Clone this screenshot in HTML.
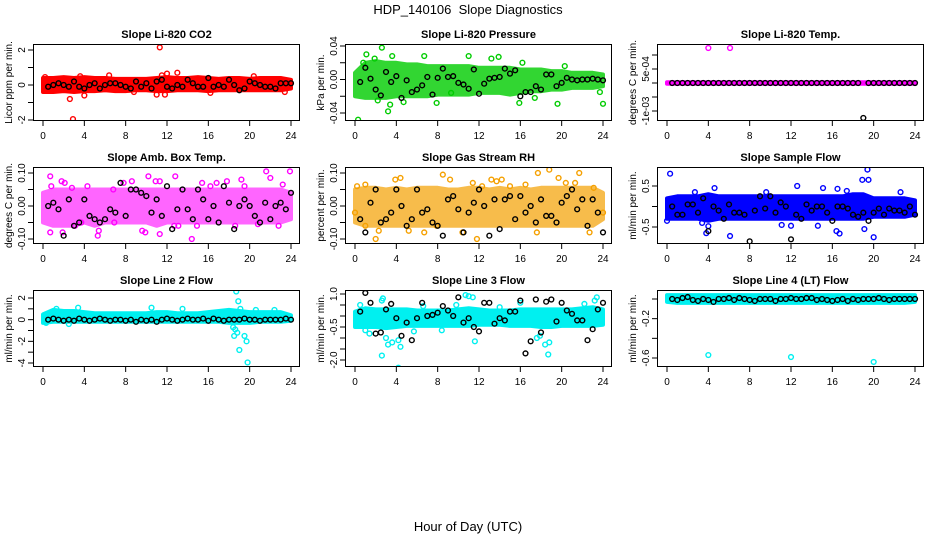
<!DOCTYPE html>
<html><head><meta charset="utf-8"><title>HDP_140106 Slope Diagnostics</title>
<style>
html,body{margin:0;padding:0;background:#fff;}
svg{display:block;font-family:"Liberation Sans",Arial,sans-serif;}
</style></head>
<body>
<svg id="chart" width="936" height="540" viewBox="0 0 936 540" xmlns="http://www.w3.org/2000/svg">
<text x="468" y="14" text-anchor="middle" font-size="13">HDP_140106&#160; Slope Diagnostics</text>
<text x="468" y="531" text-anchor="middle" font-size="13">Hour of Day (UTC)</text>
</svg>
<script>
// ---------- shared data ----------
var bandHours = [0,1,2,3,4,5,6,7,8,9,10,11,12,13,14,15,16,17,18,19,20,21,22,23,24];
var blackHours = [0.5,1,1.5,2,2.5,3,3.5,4,4.5,5,5.5,6,6.5,7,7.5,8,8.5,9,9.5,10,10.5,11,11.5,12,12.5,13,13.5,14,14.5,15,15.5,16,16.5,17,17.5,18,18.5,19,19.5,20,20.5,21,21.5,22,22.5,23,23.5,24];
var xTicks = [0,4,8,12,16,20,24];

// ---------- CO2 ----------
var co2Lo = [-0.4,-0.4,-0.35,-0.4,-0.35,-0.35,-0.3,-0.35,-0.35,-0.3,-0.3,-0.35,-0.35,-0.3,-0.3,-0.3,-0.35,-0.3,-0.3,-0.3,-0.3,-0.3,-0.3,-0.3,-0.2];
var co2Hi = [0.4,0.4,0.45,0.4,0.45,0.4,0.4,0.35,0.35,0.35,0.35,0.4,0.45,0.4,0.4,0.45,0.4,0.35,0.4,0.4,0.35,0.4,0.4,0.4,0.3];
var co2OutX = [11.3,2.9,2.6,4,13,12,11.5,6.4,11,11.8,20.4,23.4,0.2,3.6,8.8,16.2];
var co2OutY = [2.15,-1.95,-0.8,-0.6,0.7,0.65,0.55,0.55,-0.55,-0.55,0.5,-0.4,0.45,0.5,-0.4,-0.45];
var co2Black = [-0.1,0.0,0.1,0.0,-0.1,0.2,-0.1,-0.2,0.0,0.1,-0.2,0.0,0.1,0.1,0.0,-0.1,-0.2,0.2,-0.1,0.1,-0.2,0.2,0.3,-0.1,-0.2,0.0,-0.1,0.3,0.1,-0.1,-0.1,0.4,-0.1,0.0,-0.1,0.3,0.0,-0.3,-0.2,0.2,0.1,0.0,-0.1,-0.1,-0.2,0.1,0.1,0.1];

// ---------- Pressure ----------
var presLo = [-0.02,-0.022,-0.022,-0.022,-0.02,-0.02,-0.02,-0.02,-0.018,-0.018,-0.018,-0.018,-0.016,-0.016,-0.016,-0.018,-0.016,-0.014,-0.014,-0.012,-0.012,-0.01,-0.01,-0.01,-0.008];
var presHi = [0.008,0.02,0.022,0.02,0.02,0.018,0.018,0.016,0.016,0.016,0.016,0.016,0.014,0.014,0.014,0.014,0.012,0.012,0.012,0.01,0.01,0.008,0.008,0.008,0.006];
var presOutX = [0.3,2.6,3.2,3.4,1.1,6.7,11,13.9,7.9,4.7,9.3,15.9,19.6,24,13.2,0.8,1.9,3.6,2.2,16.2,17.4,20.3,23.7];
var presOutY = [-0.048,0.038,-0.038,-0.03,0.03,0.028,0.028,0.027,-0.028,-0.027,-0.016,-0.028,-0.029,-0.029,0.025,0.02,0.025,0.028,-0.025,0.02,-0.022,0.016,-0.015];
var presBlack = [-0.003,0.014,0.001,-0.012,-0.019,0.009,-0.003,0.004,-0.022,-0.001,-0.015,-0.012,-0.007,0.003,-0.018,0.002,0.013,0.003,0.004,-0.004,-0.006,-0.011,0.012,-0.017,-0.005,0.001,0.002,0.003,0.013,0.007,0.011,-0.02,-0.015,-0.015,-0.008,-0.012,0.006,0.006,-0.008,-0.004,0.002,0.0,-0.001,0.0,0.0,0.001,0.0,-0.001];

// ---------- Li-820 Temp ----------
var tempLo = [-0.00003,-0.00003,-0.00003,-0.00003,-0.00003,-0.00003,-0.00003,-0.00003,-0.00003,-0.00003,-0.00003,-0.00003,-0.00003,-0.00003,-0.00003,-0.00003,-0.00003,-0.00003,-0.00003,-0.00003,-0.00003,-0.00003,-0.00003,-0.00003,-0.00003];
var tempHi = [0.00003,0.00003,0.00003,0.00003,0.00003,0.00003,0.00003,0.00003,0.00003,0.00003,0.00003,0.00003,0.00003,0.00003,0.00003,0.00003,0.00003,0.00003,0.00003,0.00003,0.00003,0.00003,0.00003,0.00003,0.00003];
var tempOutX = [4,6.1];
var tempOutY = [0.00125,0.00125];
var tempBlack = [0,0,0,0,0,0,0,0,0,0,0,0,0,0,0,0,0,0,0,0,0,0,0,0,0,0,0,0,0,0,0,0,0,0,0,0,0,-0.00125,0,0,0,0,0,0,0,0,0,0];

// ---------- Amb Box Temp ----------
var ambLo = [-0.05,-0.06,-0.06,-0.06,-0.05,-0.06,-0.05,-0.05,-0.05,-0.05,-0.05,-0.06,-0.05,-0.05,-0.05,-0.05,-0.05,-0.05,-0.05,-0.05,-0.05,-0.05,-0.05,-0.05,-0.04];
var ambHi = [0.04,0.05,0.05,0.05,0.05,0.05,0.05,0.05,0.05,0.05,0.05,0.05,0.05,0.05,0.05,0.05,0.05,0.05,0.05,0.05,0.05,0.05,0.05,0.05,0.04];
var ambOutX = [0.7,0.8,1.8,2.1,0.7,1.9,2.8,4.3,5.3,5.4,6.8,7.8,8.6,10.2,10.9,11.3,12.8,12.7,11.3,14.4,13.1,15.4,16.2,17.8,19.2,21.6,22.0,23.9,22.8,18.6,9.6,9.9,3.7,6.9,20.8,3.1,14.9,16.8,19.5,23.2];
var ambOutY = [0.09,0.06,0.075,0.07,-0.08,-0.08,0.055,0.06,-0.09,-0.075,0.05,0.07,0.075,0.09,0.075,0.075,0.09,-0.06,-0.085,-0.1,-0.06,0.07,0.06,0.075,0.08,0.105,0.085,0.105,-0.06,-0.06,-0.075,-0.08,-0.05,-0.05,-0.055,-0.06,-0.06,0.07,0.06,0.065];
var ambBlack = [0.0,0.01,-0.01,-0.09,0.02,-0.06,-0.05,0.02,-0.03,-0.04,-0.05,-0.04,-0.01,-0.02,0.07,-0.03,0.05,0.05,0.04,0.03,-0.02,0.02,-0.03,0.06,-0.07,-0.01,0.05,-0.01,-0.04,0.05,0.02,-0.04,0.00,-0.05,0.06,0.01,-0.07,0.00,0.02,0.00,-0.03,-0.05,0.01,-0.04,0.00,0.01,-0.01,0.04];

// ---------- Gas Stream RH ----------
var gasLo = [-0.05,-0.06,-0.06,-0.06,-0.06,-0.06,-0.06,-0.06,-0.06,-0.06,-0.06,-0.06,-0.06,-0.06,-0.06,-0.06,-0.06,-0.06,-0.06,-0.06,-0.06,-0.06,-0.06,-0.06,-0.04];
var gasHi = [0.05,0.055,0.055,0.05,0.055,0.05,0.055,0.055,0.055,0.05,0.05,0.055,0.055,0.05,0.055,0.05,0.055,0.05,0.055,0.055,0.055,0.055,0.055,0.055,0.04];
var gasOutX = [2,11.8,18.8,17.7,21.7,8.5,4.4,3.9,9.2,13.2,13.7,14.2,19.7,0.2,1.0,2.3,1.0,5.2,6.7,7.9,11.4,15,16.5,17.6,20.4,21.3,22.7,23.1,24,0,12.3,10.4];
var gasOutY = [-0.1,-0.1,0.11,0.1,0.1,0.095,0.085,0.08,0.08,0.08,0.075,0.08,0.085,0.06,0.065,-0.075,-0.06,-0.075,-0.08,-0.06,0.07,0.06,0.065,-0.08,0.07,0.07,-0.08,0.055,-0.02,-0.02,0.06,-0.08];
var gasBlack = [-0.04,-0.08,0.01,0.05,-0.05,-0.04,-0.02,0.05,0.00,-0.06,-0.04,0.05,-0.02,-0.01,-0.05,-0.06,-0.09,0.02,0.03,-0.01,-0.08,-0.02,0.01,0.05,0.00,-0.09,0.02,-0.07,0.02,0.03,-0.04,0.03,-0.02,0.00,-0.05,0.02,-0.03,-0.03,-0.05,0.01,0.03,0.05,-0.01,0.02,-0.06,0.02,-0.02,-0.08];

// ---------- Sample Flow ----------
var sampLo = [-0.3,-0.3,-0.3,-0.3,-0.35,-0.3,-0.3,-0.3,-0.3,-0.3,-0.3,-0.3,-0.3,-0.3,-0.3,-0.3,-0.3,-0.3,-0.3,-0.3,-0.25,-0.25,-0.25,-0.25,-0.2];
var sampHi = [0.2,0.25,0.25,0.25,0.3,0.25,0.25,0.25,0.25,0.25,0.25,0.25,0.25,0.25,0.25,0.25,0.25,0.25,0.3,0.3,0.2,0.2,0.2,0.2,0.15];
var sampOutX = [0.3,19.4,18.9,19.5,3.8,6.1,20,16.4,16.7,19.1,12,14.6,4,4.6,12.6,15.1,16.5,0,3.4,2.7,9.6,11.1,17.4,22.6];
var sampOutY = [0.8,0.9,0.65,0.65,-0.65,-0.72,-0.75,-0.6,-0.66,-0.55,-0.47,-0.47,-0.48,0.45,0.5,0.45,0.43,-0.35,-0.4,0.35,0.35,-0.45,0.38,0.35];
var sampBlack = [0.0,-0.2,-0.2,0.05,0.05,-0.15,0.2,-0.6,0.0,-0.1,-0.3,0.05,-0.15,-0.15,-0.2,-0.85,-0.1,0.25,-0.05,0.25,-0.15,0.1,0.0,-0.8,-0.2,-0.3,0.05,-0.1,0.0,0.0,-0.15,-0.35,0.0,0.0,-0.05,-0.2,-0.25,-0.15,-0.35,-0.15,-0.05,-0.2,-0.05,-0.1,-0.1,-0.15,0.0,-0.2];

// ---------- Line 2 Flow ----------
var l2Lo = [-0.3,-0.2,-0.2,-0.2,-0.2,-0.2,-0.2,-0.2,-0.2,-0.2,-0.2,-0.2,-0.2,-0.2,-0.2,-0.2,-0.2,-0.2,-0.3,-0.3,-0.3,-0.2,-0.2,-0.2,-0.1];
var l2Hi = [0.5,0.9,0.8,0.8,0.7,0.6,0.6,0.6,0.6,0.6,0.6,0.7,0.7,0.6,0.6,0.6,0.7,0.8,0.9,0.8,0.7,0.7,0.7,0.7,0.4];
var l2OutX = [18.7,18.9,19.1,18.6,18.4,18.5,19.5,19.7,19.0,19.8,18.8,10.5,0.3,1.3,3.4,13.5,2.5,20.6,22.4];
var l2OutY = [2.6,1.7,1.0,-0.9,-0.7,-1.5,-1.5,-2.0,-2.8,-3.95,-1.2,1.1,-0.3,1.0,1.1,1.0,-0.4,0.9,0.9];
var l2Black = [0.0,0.1,0.0,-0.1,0.0,-0.1,0.1,0.0,-0.1,0.0,0.1,0.0,-0.1,0.0,0.0,-0.1,0.0,-0.2,0.0,-0.1,0.0,-0.2,0.0,0.1,0.0,-0.1,0.0,0.1,0.0,0.0,0.1,-0.1,0.1,0.0,-0.1,0.0,0.0,0.0,0.1,0.0,0.0,-0.1,0.0,0.0,0.0,0.0,0.1,0.0];

// ---------- Line 3 Flow ----------
var l3Lo = [-0.5,-0.5,-0.5,-0.55,-0.5,-0.45,-0.45,-0.45,-0.45,-0.45,-0.45,-0.45,-0.4,-0.4,-0.4,-0.45,-0.45,-0.45,-0.5,-0.5,-0.45,-0.45,-0.45,-0.45,-0.4];
var l3Hi = [0.2,0.35,0.3,0.3,0.3,0.3,0.25,0.25,0.25,0.25,0.3,0.35,0.3,0.25,0.25,0.25,0.3,0.3,0.3,0.3,0.3,0.3,0.35,0.4,0.3];
var l3OutX = [2.6,2.7,10.7,11,11.4,23.4,23.2,1,1.4,3,3.2,3.6,2.6,4.2,4.4,4.2,5.7,8.4,11.6,17.6,17.9,18.4,18.8,18.7,6.6,14,16,22.2,0.5,9.8];
var l3OutY = [0.7,0.8,0.95,0.9,0.85,0.85,0.7,-0.65,-0.8,-1.0,-1.3,-1.2,-1.8,-1.1,-1.4,-2.35,-0.7,-0.65,-1.15,-1.0,-0.9,-1.3,-1.2,-1.75,0.45,0.4,0.6,0.55,0.5,0.5];
var l3Black = [0.2,1.05,0.6,-0.8,-0.75,0.3,0.55,-0.1,-0.9,-0.3,-1.1,-0.1,0.6,0.0,0.05,0.15,0.45,0.25,0.0,0.85,-0.3,-0.1,-0.5,-0.7,0.6,0.6,-0.35,-0.1,-0.2,0.2,0.2,0.7,-1.7,-1.15,0.75,-0.75,0.65,0.75,-0.25,0.6,0.25,0.1,-0.2,-0.2,-1.1,-0.6,0.3,0.6];

// ---------- Line 4 Flow ----------
var l4Lo = [-0.03,-0.04,-0.04,-0.04,-0.04,-0.04,-0.04,-0.04,-0.04,-0.04,-0.04,-0.04,-0.04,-0.04,-0.04,-0.04,-0.04,-0.04,-0.04,-0.04,-0.04,-0.04,-0.04,-0.04,-0.03];
var l4Hi = [0.04,0.04,0.04,0.04,0.04,0.04,0.04,0.04,0.04,0.04,0.04,0.04,0.04,0.04,0.04,0.04,0.04,0.04,0.04,0.04,0.04,0.04,0.04,0.04,0.04];
var l4OutX = [4,12,20];
var l4OutY = [-0.57,-0.59,-0.64];
var l4Black = [0.0,-0.01,0.01,0.02,-0.01,-0.02,0.0,-0.01,-0.03,0.0,0.0,0.01,-0.01,0.01,0.0,-0.01,-0.02,0.0,0.0,0.0,-0.02,0.0,0.0,0.01,0.0,0.0,0.01,0.01,-0.01,0.0,-0.01,-0.02,-0.01,0.0,-0.02,0.0,-0.01,0.0,0.0,0.0,0.01,0.0,-0.01,0.0,0.0,0.0,0.0,0.0];

// ---------- panel layout / scales ----------
var NS = "http://www.w3.org/2000/svg";
var svg = document.getElementById('chart');
var colL = [33,345,657], rowT = [44,167,290], PW = 267, PH = 77;

var panels = [
 {name:'co2',title:'Slope Li-820 CO2',ylab:'Licor ppm per min.',col:0,row:0,color:'#ff0000',op:1,lo:co2Lo,hi:co2Hi,ox:co2OutX,oy:co2OutY,bk:co2Black,
  v1:2,p1:50,v2:-2,p2:120,ticks:[-2,-1,0,1,2],labels:['-2','','0','','2']},
 {name:'pressure',title:'Slope Li-820 Pressure',ylab:'kPa per min.',col:1,row:0,color:'#00cc00',op:0.8,lo:presLo,hi:presHi,ox:presOutX,oy:presOutY,bk:presBlack,
  v1:0.04,p1:46,v2:-0.04,p2:113,ticks:[-0.04,-0.02,0,0.02,0.04],labels:['-0.04','','0.00','','0.04']},
 {name:'li820-temp',title:'Slope Li-820 Temp.',ylab:'degrees C per min.',col:2,row:0,color:'#ff00ff',op:1,lo:tempLo,hi:tempHi,ox:tempOutX,oy:tempOutY,bk:tempBlack,
  v1:0.001,p1:55,v2:-0.001,p2:111,ticks:[-0.001,-0.0005,0,0.0005,0.001],labels:['-1e-03','','','5e-04','']},
 {name:'amb-box-temp',title:'Slope Amb. Box Temp.',ylab:'degrees C per min.',col:0,row:1,color:'#ff00ff',op:0.6,lo:ambLo,hi:ambHi,ox:ambOutX,oy:ambOutY,bk:ambBlack,
  v1:0.1,p1:173,v2:-0.1,p2:239,ticks:[-0.1,-0.05,0,0.05,0.1],labels:['-0.10','','0.00','','0.10']},
 {name:'gas-stream-rh',title:'Slope Gas Stream RH',ylab:'percent per min.',col:1,row:1,color:'#f5a000',op:0.7,lo:gasLo,hi:gasHi,ox:gasOutX,oy:gasOutY,bk:gasBlack,
  v1:0.1,p1:173,v2:-0.1,p2:239,ticks:[-0.1,-0.05,0,0.05,0.1],labels:['-0.10','','0.00','','0.10']},
 {name:'sample-flow',title:'Slope Sample Flow',ylab:'ml/min per min.',col:2,row:1,color:'#0000ff',op:1,lo:sampLo,hi:sampHi,ox:sampOutX,oy:sampOutY,bk:sampBlack,
  v1:0.5,p1:186,v2:-0.5,p2:227,ticks:[-0.5,0,0.5],labels:['-0.5','','0.5']},
 {name:'line2-flow',title:'Slope Line 2 Flow',ylab:'ml/min per min.',col:0,row:2,color:'#00f0f0',op:1,lo:l2Lo,hi:l2Hi,ox:l2OutX,oy:l2OutY,bk:l2Black,
  v1:2,p1:298,v2:-4,p2:363,ticks:[-4,-3,-2,-1,0,1,2],labels:['-4','','-2','','0','','2']},
 {name:'line3-flow',title:'Slope Line 3 Flow',ylab:'ml/min per min.',col:1,row:2,color:'#00f0f0',op:1,lo:l3Lo,hi:l3Hi,ox:l3OutX,oy:l3OutY,bk:l3Black,
  v1:1,p1:294,v2:-2,p2:360,ticks:[-2,-1.5,-1,-0.5,0,0.5,1],labels:['-2.0','','','-0.5','','','1.0']},
 {name:'line4-flow',title:'Slope Line 4 (LT) Flow',ylab:'ml/min per min.',col:2,row:2,color:'#00f0f0',op:1,lo:l4Lo,hi:l4Hi,ox:l4OutX,oy:l4OutY,bk:l4Black,
  v1:0,p1:299,v2:-0.6,p2:358,ticks:[-0.6,-0.4,-0.2,0],labels:['-0.6','','-0.2','']}
];

function mk(tag, attrs, parent){
  var e = document.createElementNS(NS, tag);
  for (var k in attrs) e.setAttribute(k, attrs[k]);
  (parent||svg).appendChild(e);
  return e;
}

panels.forEach(function(p){
  var L = colL[p.col], T = rowT[p.row];
  var xs = function(h){ return L + 10 + h * (248/24); };
  var ys = function(v){ return p.p1 + (v - p.v1) * (p.p2 - p.p1) / (p.v2 - p.v1); };
  var g = mk('g', {});
  
  

  var clipId = 'clip-' + p.name;
  var cp = mk('clipPath', {id: clipId}, g);
  mk('rect', {x: L, y: T, width: PW, height: PH}, cp);
  var plot = mk('g', {'clip-path': 'url(#' + clipId + ')'}, g);
  
  

  var pts = [];
  for (var i = 0; i < bandHours.length; i++) pts.push(xs(bandHours[i]).toFixed(1) + ',' + ys(p.hi[i]).toFixed(1));
  for (var j = bandHours.length - 1; j >= 0; j--) pts.push(xs(bandHours[j]).toFixed(1) + ',' + ys(p.lo[j]).toFixed(1));
  var band = mk('polygon', {points: pts.join(' '), fill: p.color, stroke: p.color, 'stroke-width': 4, 'stroke-linejoin': 'round', opacity: p.op}, plot);
  
  

  for (var k = 0; k < Math.min(p.ox.length, p.oy.length); k++) {
    var c = mk('circle', {cx: xs(p.ox[k]), cy: ys(p.oy[k]), r: 2.4, fill: 'none', stroke: p.color, 'stroke-width': 1.4}, plot);
    
    
  }
  for (var b = 0; b < Math.min(blackHours.length, p.bk.length); b++) {
    var bc = mk('circle', {cx: xs(blackHours[b]), cy: ys(p.bk[b]), r: 2.4, fill: 'none', stroke: '#000', 'stroke-width': 1.4}, plot);
    
    
  }

  var fr = mk('rect', {x: L + 0.5, y: T + 0.5, width: PW - 1, height: PH - 1, fill: 'none', stroke: '#000', 'stroke-width': 1}, g);
  
  

  var t = mk('text', {x: L + PW/2, y: T - 6, 'text-anchor': 'middle', 'font-size': 11, 'font-weight': 'bold'}, g);
  t.textContent = p.title;
  
  

  var bot = T + PH;
  xTicks.forEach(function(h){
    mk('line', {x1: xs(h), x2: xs(h), y1: bot, y2: bot + 5, stroke: '#000', 'stroke-width': 1}, g);
    var tl = mk('text', {x: xs(h), y: bot + 18, 'text-anchor': 'middle', 'font-size': 10}, g);
    tl.textContent = String(h);
    
    
  });

  p.ticks.forEach(function(v, idx){
    var y = ys(v);
    mk('line', {x1: L - 5, x2: L, y1: y, y2: y, stroke: '#000', 'stroke-width': 1}, g);
    if (p.labels[idx]) {
      var yl = mk('text', {x: L - 8, y: y, 'text-anchor': 'middle', 'font-size': 10, transform: 'rotate(-90 ' + (L - 8) + ' ' + y + ')'}, g);
      yl.textContent = p.labels[idx];
      
      
    }
  });
  var ylx = L - 21, yly = T + PH/2;
  var yt = mk('text', {x: ylx, y: yly, 'text-anchor': 'middle', 'font-size': 10, transform: 'rotate(-90 ' + ylx + ' ' + yly + ')'}, g);
  yt.textContent = p.ylab;
  
  
});
</script>
</body></html>
